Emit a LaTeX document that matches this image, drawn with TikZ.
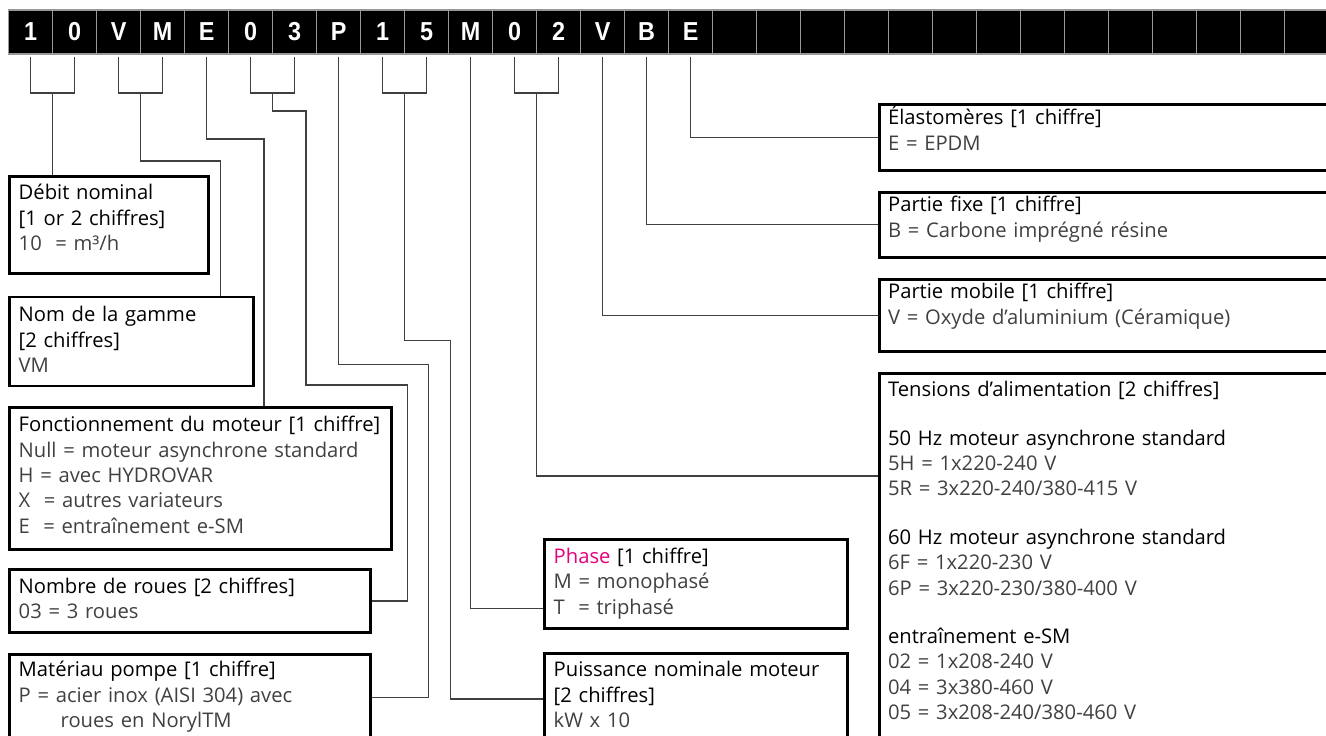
\documentclass[tikz,border=0pt]{standalone}
\usepackage{fontspec}
\setmainfont{Open Sans}
\newfontfamily\cellfont[FakeStretch=0.9]{Liberation Sans}
\usetikzlibrary{calc}
\definecolor{phasepink}{HTML}{E5007D}
\newcommand{\hd}[1]{{\color{black}#1}}

\begin{document}
\begin{tikzpicture}[x=0.5pt, y=-0.5pt,
	cell/.style={fill=black, draw=black!40, line width=0.6pt, minimum width=22pt, minimum height=22pt, inner sep=0pt, anchor=north west, text=white, font=\cellfont\bfseries\fontsize{13}{13}\selectfont},
	box/.style={draw=black, line width=1.4pt, anchor=north west, align=left, inner xsep=4.5pt, text height=8.86pt, text=black!75, font=\fontsize{10.1}{12.65}\selectfont},
	wire/.style={draw=black!75, line width=0.65pt}]
	\useasboundingbox (0,0) rectangle (1326,735);
	\clip (0,0) rectangle (1326,735);

	% type code
	\foreach \ch [count=\i from 0] in {1,0,V,M,E,0,3,P,1,5,M,0,2,V,B,E,{},{},{},{},{},{},{},{},{},{},{},{},{},{}}
		\node[cell] (c\i) at ({8+44*\i},9.3) {\ch};

	\foreach \a/\b/\j in {0/1/0, 2/3/1, 5/6/2, 8/9/3, 11/12/4} {
		\coordinate (j\j) at ($(c\a.south)!0.5!(c\b.south)+(0,38.4)$);
		\draw[wire] ([yshift=-1pt]c\a.south) |- (j\j) -| ([yshift=-1pt]c\b.south);
	}

	% left column
	\node[box, text width=90.2pt, inner ysep=2.85pt, text depth=33.79pt] at (8.3,175) (debit) {\hd{Débit nominal}\\\hd{[1 or 2 chiffres]}\\10\ \ = m³/h};
	\node[box, text width=113pt, inner ysep=3.6pt, text depth=28.44pt] at (8.3,295.5) (nom) {\hd{Nom de la gamme}\\\hd{[2 chiffres]}\\VM};
	\node[box, text width=182pt, inner ysep=3.35pt, text depth=55.29pt] at (8.3,406) (fonct) {\hd{Fonctionnement du moteur [1 chiffre]}\\Null = moteur asynchrone standard\\H = avec HYDROVAR\\X\ \ = autres variateurs\\E\ \ = entraînement e-SM};
	\node[box, text width=171.5pt, inner ysep=3.05pt, text depth=16.24pt] at (8.3,568.3) (nombre) {\hd{Nombre de roues [2 chiffres]}\\03 = 3 roues};
	\node[box, text width=171.5pt, inner ysep=2.5pt, text depth=60pt] at (8.3,652.7) (mat) {\hd{Matériau pompe [1 chiffre]}\\P = acier inox (AISI 304) avec\\\hspace*{21pt}roues en NorylTM};

	% middle column
	\node[box, text width=142.2pt, inner ysep=3.05pt, text depth=29.24pt] at (543.3,538.3) (phase) {\textcolor{phasepink}{Phase} \hd{[1 chiffre]}\\M = monophasé\\T\ \ = triphasé};
	\node[box, text width=142.2pt, inner ysep=3pt, text depth=60pt] at (543.3,651.7) (puis) {\hd{Puissance nominale moteur}\\\hd{[2 chiffres]}\\kW x 10};

	% right column
	\node[box, text width=225pt, inner ysep=1.2pt, text depth=21.59pt] at (877.7,103.3) (elast) {\hd{Élastomères [1 chiffre]}\\E = EPDM};
	\node[box, text width=225pt, inner ysep=1pt, text depth=21.64pt] at (877.7,190.7) (fixe) {\hd{Partie fixe [1 chiffre]}\\B = Carbone imprégné résine};
	\node[box, text width=225pt, inner ysep=1pt, text depth=25.29pt] at (877.7,277.7) (mobile) {\hd{Partie mobile [1 chiffre]}\\V = Oxyde d’aluminium (Céramique)};
	\node[box, text width=225pt, inner ysep=2.7pt, text depth=200pt] at (877.7,372.3) (tens) {\hd{Tensions d’alimentation [2 chiffres]}\\[11.6pt]
		\hd{50 Hz moteur asynchrone standard}\\5H = 1x220-240 V\\5R = 3x220-240/380-415 V\\[11.6pt]
		\hd{60 Hz moteur asynchrone standard}\\6F = 1x220-230 V\\6P = 3x220-230/380-400 V\\[11.6pt]
		\hd{entraînement e-SM}\\02 = 1x208-240 V\\04 = 3x380-460 V\\05 = 3x208-240/380-460 V};

	% connectors
	\draw[wire] (j0) -- (j0 |- debit.north);
	\draw[wire] (j1) |- (220.7,161) -- (220.7,0 |- nom.north);
	\draw[wire] ([yshift=-1pt]c4.south) |- (264,139) -- (264,0 |- fonct.north);
	\draw[wire] (j2) |- (306,111) |- (407.3,385) |- (nombre.east);
	\draw[wire] ([yshift=-1pt]c7.south) |- (428.3,364.3) |- (mat.east |- 0,697.7);
	\draw[wire] (j3) |- (450.5,340.5) |- (puis.west |- 0,699);
	\draw[wire] ([yshift=-1pt]c10.south) |- (phase.west |- 0,608.3);
	\draw[wire] (j4) |- (tens.west |- 0,476);
	\draw[wire] ([yshift=-1pt]c13.south) |- (mobile.west);
	\draw[wire] ([yshift=-1pt]c14.south) |- (fixe.west);
	\draw[wire] ([yshift=-1pt]c15.south) |- (elast.west);
\end{tikzpicture}
\end{document}
